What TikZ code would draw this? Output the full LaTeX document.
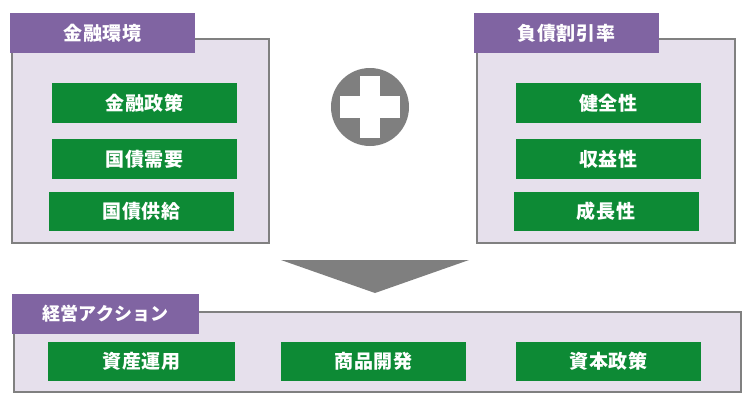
\documentclass[tikz,border=0pt]{standalone}
\usepackage{fontspec}
\newfontfamily\jp{Noto Sans CJK JP}[LetterSpace=5]
\newfontfamily\jpk{Noto Sans CJK JP}
\definecolor{tabpurple}{HTML}{8064A2}
\definecolor{panelfill}{HTML}{E6E0EC}
\definecolor{panelborder}{HTML}{808080}
\definecolor{boxgreen}{HTML}{0D8A35}
\definecolor{signgray}{HTML}{7F7F7F}
\tikzset{
  panel/.style={draw=panelborder, line width=2pt, fill=panelfill, inner sep=0pt},
  tabbox/.style={fill=tabpurple, text=white, inner sep=0pt, minimum width=185pt, minimum height=40pt, font=\jp\bfseries\fontsize{19}{22}\selectfont},
  itembox/.style={fill=boxgreen, text=white, inner sep=0pt, minimum width=185pt, minimum height=40pt, font=\jp\bfseries\fontsize{19}{22}\selectfont},
}
\begin{document}
\begin{tikzpicture}[x=1pt,y=-1pt]
\useasboundingbox (0,0) rectangle (745,394);
% left panel
\node[panel, minimum width=257pt, minimum height=204pt] (lpanel) at (140.5,141) {};
\node[tabbox] (ltab) at (102.5,33) {金融環境};
\node[itembox] (l1) at (144.5,103) {金融政策};
\node[itembox] (l2) at (144.5,159) {国債需要};
\node[itembox, minimum height=39pt] (l3) at (141.5,211.5) {国債供給};
% right panel
\node[panel, minimum width=258pt, minimum height=204pt] (rpanel) at (606,141) {};
\node[tabbox] (rtab) at (566.5,33) {負債割引率};
\node[itembox] (r1) at (608.5,103) {健全性};
\node[itembox] (r2) at (608.5,159) {収益性};
\node[itembox, minimum height=39pt] (r3) at (606,211.5) {成長性};
% plus sign
\node[circle, fill=signgray, minimum size=78pt, inner sep=0pt] (plus) at (370,107) {};
\fill[white] ([xshift=-30pt,yshift=-11pt]plus.center) rectangle ([xshift=30pt,yshift=11pt]plus.center);
\fill[white] ([xshift=-10pt,yshift=-31pt]plus.center) rectangle ([xshift=10pt,yshift=31pt]plus.center);
% arrow
\coordinate (arrL) at (281,260);
\coordinate (arrR) at (469,260);
\coordinate (arrT) at (375,293);
\fill[signgray] (arrL) -- (arrR) -- (arrT) -- cycle;
% bottom panel
\node[panel, minimum width=727pt, minimum height=80pt] (bpanel) at (377.5,352) {};
\node[tabbox, minimum width=187pt, font=\jpk\bfseries\fontsize{18}{22}\selectfont] (btab) at (105.5,314) {経営アクション};
\node[itembox, minimum width=187pt, minimum height=39pt] (b1) at (141.5,361.5) {資産運用};
\node[itembox, minimum height=39pt] (b2) at (373.5,361.5) {商品開発};
\node[itembox, minimum height=39pt] (b3) at (608.5,361.5) {資本政策};
\end{tikzpicture}
\end{document}
